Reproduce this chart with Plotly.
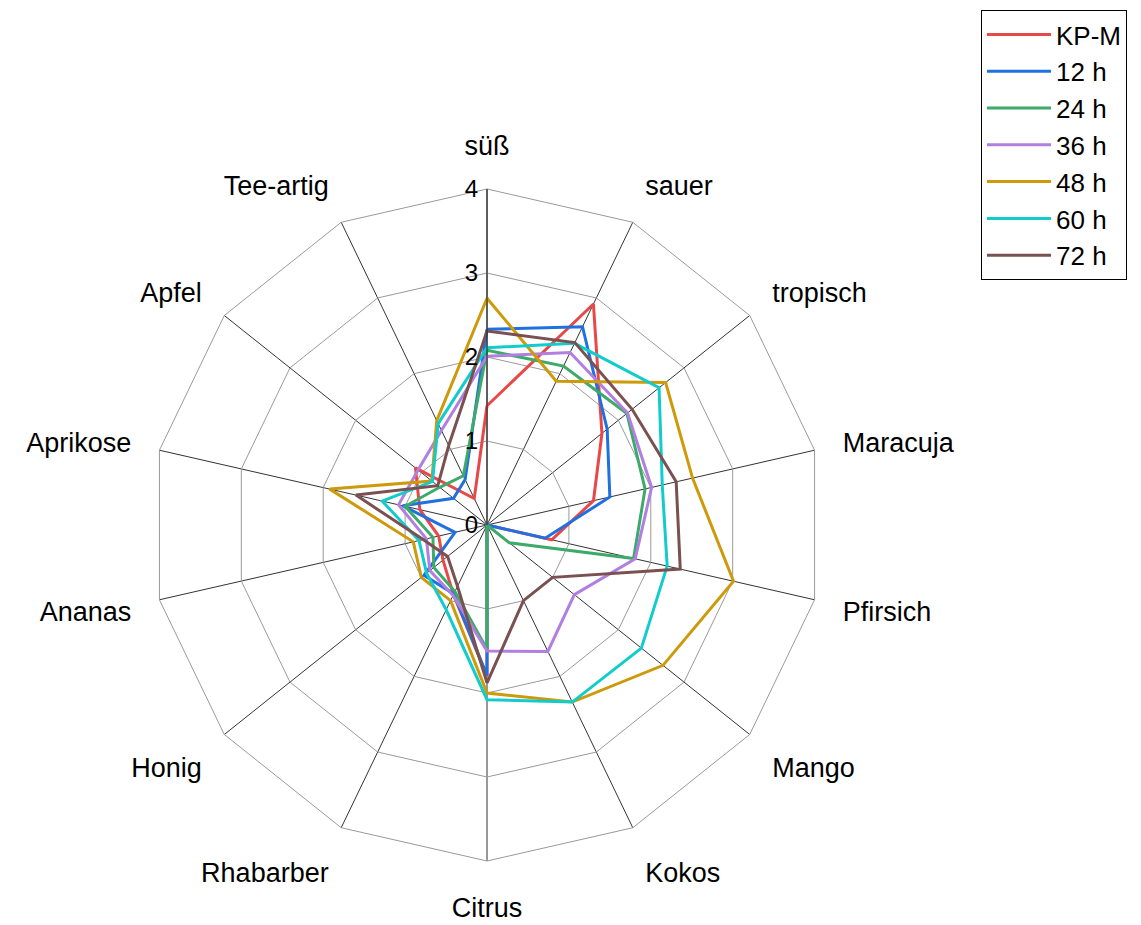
import plotly.graph_objects as go

categories = ["süß", "sauer", "tropisch", "Maracuja", "Pfirsich", "Mango", "Kokos",
              "Citrus", "Rhabarber", "Honig", "Ananas", "Aprikose", "Apfel", "Tee-artig"]

series_names = ["KP-M", "12 h", "24 h", "36 h", "48 h", "60 h", "72 h"]

kp_m = [1.42, 2.92, 1.75, 1.30, 0.79, 0.00, 0.00, 1.80, 0.92, 0.67, 0.59, 0.82, 1.09, 0.35]
h12  = [2.33, 2.62, 1.83, 1.50, 0.71, 0.00, 0.00, 1.79, 0.91, 0.96, 0.39, 1.03, 0.51, 0.60]
h24  = [2.08, 2.10, 2.13, 1.93, 1.79, 0.34, 0.00, 1.48, 0.88, 0.81, 0.66, 1.00, 0.72, 0.65]
h36  = [2.01, 2.28, 2.14, 2.01, 1.81, 1.33, 1.67, 1.50, 0.93, 0.87, 0.74, 1.08, 1.05, 1.25]
h48  = [2.70, 1.90, 2.72, 2.51, 3.01, 2.68, 2.34, 2.00, 1.00, 1.00, 0.90, 1.92, 0.84, 1.38]
h60  = [2.11, 2.40, 2.62, 2.14, 2.20, 2.35, 2.34, 2.08, 1.12, 0.92, 0.83, 1.28, 0.83, 1.34]
h72  = [2.31, 2.41, 2.21, 2.31, 2.36, 1.00, 1.00, 1.88, 0.81, 0.60, 0.78, 1.60, 0.75, 1.05]

radial_ticks = [0, 1, 2, 3, 4]

colors = ["#E84848", "#2070E0", "#3DAA6A", "#B07FE0", "#CC9A0A", "#12CCCC", "#7A5050"]
all_values = [kp_m, h12, h24, h36, h48, h60, h72]

fig = go.Figure()
for name, vals, col in zip(series_names, all_values, colors):
    fig.add_trace(go.Scatterpolar(
        r=vals + [vals[0]],
        theta=categories + [categories[0]],
        mode="lines",
        name=name,
        line=dict(color=col, width=3),
    ))

font_family = "Liberation Sans, Arial, sans-serif"

# page has an 8px body margin; figure is sized to fit inside the window
W, H = 1133, 917
OFF = 8

def px_x(x):
    return (x - OFF) / W

def px_y(y):
    return 1 - (y - OFF) / H

fig.update_layout(
    width=W,
    height=H,
    margin=dict(l=0, r=0, t=0, b=0),
    paper_bgcolor="white",
    plot_bgcolor="white",
    font=dict(family=font_family, color="black"),
    polar=dict(
        domain=dict(x=[px_x(151), px_x(823)], y=[px_y(861), px_y(189)]),
        bgcolor="white",
        gridshape="linear",
        angularaxis=dict(
            type="category",
            categoryorder="array",
            categoryarray=categories,
            direction="clockwise",
            rotation=90,
            tickfont=dict(size=27, family=font_family, color="black"),
            ticks="outside",
            ticklen=23,
            tickcolor="rgba(0,0,0,0)",
            showgrid=True,
            gridcolor="#333333",
            gridwidth=1,
            showline=True,
            linecolor="#9a9a9a",
            linewidth=1,
        ),
        radialaxis=dict(
            range=[0, 4],
            tickvals=radial_ticks,
            ticktext=[str(t) for t in radial_ticks],
            angle=90,
            side="counterclockwise",
            tickangle=90,
            tickfont=dict(size=24, family=font_family, color="black"),
            ticks="",
            showgrid=True,
            gridcolor="#9a9a9a",
            gridwidth=1,
            showline=True,
            linecolor="#222222",
            linewidth=1,
        ),
    ),
    legend=dict(
        x=px_x(981),
        y=px_y(10),
        xanchor="left",
        yanchor="top",
        bordercolor="black",
        borderwidth=1,
        bgcolor="white",
        itemwidth=64,
        font=dict(size=26, family=font_family, color="black"),
    ),
)

fig.write_html("out.html")
